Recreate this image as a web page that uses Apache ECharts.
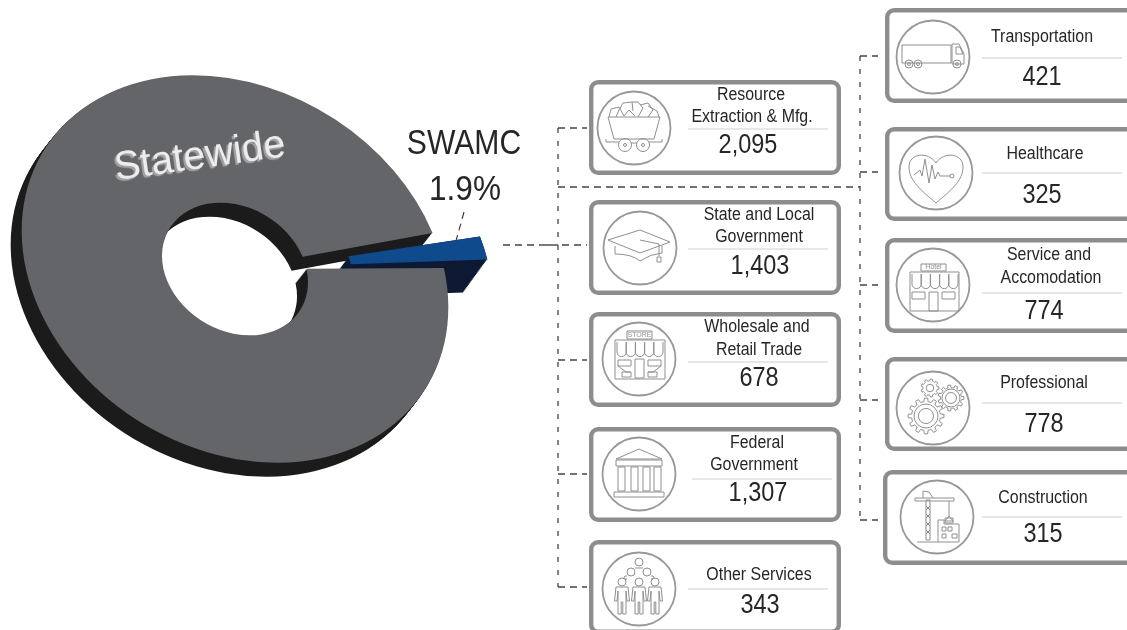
<!DOCTYPE html>
<html><head><meta charset="utf-8">
<script src="https://cdn.jsdelivr.net/npm/echarts@6/dist/echarts.min.js"></script>
<style>html,body{margin:0;padding:0;background:#fff}#c{width:1127px;height:630px}</style></head>
<body><div id="c"></div>
<script>
// ---------- data ----------
const shareNames = ['Statewide', 'SWAMC'];
const shareValues = [98.1, 1.9];
const shareCallout = '1.9%';
const leftNames = ['Resource\nExtraction & Mfg.', 'State and Local\nGovernment', 'Wholesale and\nRetail Trade', 'Federal\nGovernment', 'Other Services'];
const leftValues = [2095, 1403, 678, 1307, 343];
const rightNames = ['Transportation', 'Healthcare', 'Service and\nAccomodation', 'Professional', 'Construction'];
const rightValues = [421, 325, 774, 778, 315];

// ---------- layout (positions only) ----------
// [left, top, bottom, right, circleX, circleY, [nameCenterX...], [nameY...], dividerY, divX0, divX1, numX, numY, icon]
const leftLayout = [
  [589, 80, 175, 841, 634, 128, [751, 752], [95, 117], 129, 688, 828, 748, 146, 'cart'],
  [589, 200, 295, 841, 640, 248, [759, 759], [215, 237], 249, 688, 828, 760, 267, 'cap'],
  [589, 312, 407, 841, 639, 359, [757, 759], [327, 350], 362, 688, 828, 759, 379, 'store'],
  [589, 427, 522, 841, 639, 474, [757, 754], [443, 465], 479, 692, 832, 758, 494, 'temple'],
  [589, 540, 634, 841, 639, 589, [759], [575], 589, 688, 828, 760, 606, 'people']
];
const rightLayout = [
  [885, 8, 103, 1150, 933, 57, [1042], [37], 58, 982, 1122, 1042, 78, 'truck'],
  [885, 127, 221, 1150, 936, 173, [1045], [154], 173, 982, 1122, 1042, 196, 'heart'],
  [885, 238, 333, 1150, 933, 285, [1049, 1051], [255, 278], 293, 982, 1122, 1044, 312, 'hotel'],
  [885, 357, 451, 1150, 933, 408, [1044], [383], 403, 982, 1122, 1044, 425, 'gears'],
  [883, 470, 565, 1150, 937, 517, [1043], [498], 517, 982, 1122, 1043, 535, 'crane']
];
const FONT = '"Liberation Sans", Arial, sans-serif';
const INK = '#262626';

// ---------- icon outlines, in circle-local units ----------
const circ = (x, y, r) => `M${x - r} ${y}a${r} ${r} 0 1 0 ${2 * r} 0a${r} ${r} 0 1 0 ${-2 * r} 0Z`;
const rct = (x0, y0, x1, y1) => `M${x0} ${y0}H${x1}V${y1}H${x0}Z`;
function gear(cx, cy, r, n) {
  let d = '';
  const ro = r, ri = r * 0.8, st = Math.PI * 2 / n;
  for (let i = 0; i < n; i++) {
    const a = i * st;
    const pts = [[ri, a - st * .5], [ri, a - st * .28], [ro, a - st * .18], [ro, a + st * .18], [ri, a + st * .28]];
    pts.forEach((p, j) => {
      d += ((i === 0 && j === 0) ? 'M' : 'L') + (cx + p[0] * Math.cos(p[1])).toFixed(1) + ' ' + (cy + p[0] * Math.sin(p[1])).toFixed(1);
    });
  }
  return d + 'Z' + circ(cx, cy, r * 0.42);
}
function awnings(x0, w, n, y0, h) {
  let d = '';
  for (let i = 0; i < n; i++) {
    const x = x0 + i * w;
    d += `M${x} ${y0}v${h}a${w / 2} ${w / 2} 0 0 0 ${w} 0v${-h}`;
  }
  return d;
}
function person(x, y) {
  return circ(x, y, 4) + `M${x - 6} ${y + 5}H${x + 6}L${x + 7.5} ${y + 19}H${x + 5}L${x + 4} ${y + 9}V${y + 32}H${x + .8}V${y + 20}H${x - .8}V${y + 32}H${x - 4}V${y + 9}L${x - 5} ${y + 19}H${x - 7.5}Z`;
}
const ICONS = {
  cart: 'M-26 -11H26L20 11H-20Z' + circ(-9, 17, 6.5) + circ(-9, 17, 1.5) + circ(9, 17, 6.5) + circ(9, 17, 1.5) +
    'M-15 14H-28V11M15 14H28V11M-3 15H3' +
    'M-25 -11L-23 -19L-15 -21L-10 -12M-18 -11L-15 -18L-11 -25L-2 -26L-1 -17M-10 -12L-5 -18L1 -12M-2 -26L4 -26L9 -20L4 -11M6 -23L14 -25L19 -18L14 -11M14 -22L23 -17L25 -11',
  cap: 'M-32 -8L0 -18L30 -6L0 5Z' + 'M-25 -2V6Q-8 6 0 13Q10 6 22 5V-2' + 'M0 -8L19 -4V8M17 9H21V14H17Z',
  store: rct(-12, -28, 13, -20) + rct(-24, -19, 26, 20) + awnings(-22, 9.2, 5, -17, 10) + rct(-4, 0, 5, 19) +
    rct(-21, 1, -8, 7) + rct(9, 1, 22, 7) + 'M-21 7L-13 13H-9M9 13H14L22 7M-17 13H-8V18H-17ZM9 13H18V18H9Z',
  temple: 'M-23 -15L0 -25L23 -15Z' + rct(-23, -14, 23, -8) + rct(-21, -7, -14, 17) + rct(-8, -7, -1, 17) + rct(4, -7, 11, 17) + rct(15, -7, 22, 17) + rct(-25, 18, 25, 23),
  people: circ(0, -27, 4) + circ(-8, -17, 4) + circ(8, -17, 4) + 'M-4 -21H4M-14 -10H-12M12 -10H14M-14 -10Q-16 -12 -14 -13H-12M14 -10Q16 -12 14 -13H12' +
    person(-17, -7) + person(0, -7) + person(16, -7),
  truck: rct(-31, -12, 18, 6) + 'M19 -13H26L31 -3V7H19Z' + 'M23 -10H27L30 -3H23Z' + circ(-24, 7, 4) + circ(-24, 7, 1.5) + circ(-15, 7, 4) + circ(-15, 7, 1.5) + circ(24, 7, 4) + circ(24, 7, 1.5),
  heart: 'M0 30C-14 18 -27 8 -27 -6C-27 -20 -8 -22 0 -10C8 -22 27 -20 27 -6C27 8 14 18 0 30Z' +
    'M-22 2L-16 -3L-14 3L-11 -14L-7 10L-4 -8L-1 6L2 -1L4 3L14 3' + circ(16, 3, 2),
  hotel: rct(-12, -21, 13, -14) + rct(-23, -13, 26, 26) + awnings(-21, 9.2, 5, -11, 10) + rct(-4, 7, 5, 26) + rct(-21, 7, -8, 14) + rct(9, 7, 22, 14),
  gears: gear(-7, 8, 18, 12) + circ(-7, 8, 12) + gear(18, -10, 13, 11) + circ(18, -10, 9) + gear(-3, -20, 9, 9),
  crane: rct(-11, -17, -7, 23) + 'M-11 -11L-7 -7M-7 -11L-11 -7M-11 -3L-7 1M-7 -3L-11 1M-11 5L-7 9M-7 5L-11 9M-11 13L-7 17M-7 13L-11 17' +
    rct(-22, -19, 17, -16) + 'M-14 -19V-26L-8 -25L-4 -19' + 'M12 -16V-1' + 'M12 -1L8 4H16Z' + rct(8, 1, 16, 6) +
    'M-20 25H22V7H7V3H1V25' + rct(5, 10, 9, 14) + rct(11, 10, 15, 14) + rct(5, 17, 9, 21) + rct(15, 17, 20, 21)
};

// ---------- donut geometry ----------
const D = { cx: 235, cy: 269, r: 225, r0: 77, sq: 0.8, tilt: 32, gapMid: -43.5, pad: 1.8, depth: [-11, 14], explode: 45, blueDepth: [-24, 33] };
const rad = d => d * Math.PI / 180;
function sliceAngles(i, total) {
  const sweep = shareValues[1] / total * 360;
  if (i === 1) return [D.gapMid - sweep / 2, D.gapMid + sweep / 2];
  return [D.gapMid + sweep / 2 + D.pad, D.gapMid - sweep / 2 - D.pad + 360];
}
function sliceEl(i, dx, dy, fill) {
  const a = sliceAngles(i, shareValues[0] + shareValues[1]);
  return {
    type: 'sector', x: D.cx + dx, y: D.cy + dy, rotation: -rad(D.tilt), scaleX: 1, scaleY: D.sq,
    shape: { cx: 0, cy: 0, r: D.r, r0: D.r0, startAngle: rad(a[0]), endAngle: rad(a[1]), clockwise: true },
    style: { fill: fill }
  };
}
const ex = [D.explode * Math.cos(rad(-3)), D.explode * Math.sin(rad(-3))];

function renderDepth(params) {
  const i = params.dataIndex; // dataIndex 0 = SWAMC side wall, 1 = Statewide side wall
  if (i === 0) {
    const kids = [];
    for (let k = 0; k <= 30; k++) kids.push(sliceEl(1, ex[0] + D.blueDepth[0] * k / 30, ex[1] + D.blueDepth[1] * k / 30, '#0e1a33'));
    return { type: 'group', children: kids };
  }
  const kids = [];
  for (let k = 1; k <= 14; k++) kids.push(sliceEl(0, D.depth[0] * k / 14, D.depth[1] * k / 14, '#1b1b1c'));
  return { type: 'group', children: kids };
}
function renderTop(params) {
  const i = params.dataIndex;
  if (i === 0) return sliceEl(0, 0, 0, '#646568');
  return sliceEl(1, ex[0], ex[1], '#0f4a8c');
}
function renderCallouts() {
  return {
    type: 'group', children: [
      { type: 'text', x: 200, y: 157, rotation: rad(8), scaleX: 0.98,
        style: { text: shareNames[0], font: '40px ' + FONT, fill: '#ececec', align: 'center', verticalAlign: 'middle', textShadowColor: '#a4a4a6', textShadowOffsetX: -2, textShadowOffsetY: 2, textShadowBlur: 1, shadowColor: '#a4a4a6', shadowOffsetX: -2, shadowOffsetY: 2, shadowBlur: 1 } },
      { type: 'text', x: 464, y: 144, scaleX: 0.86, style: { text: shareNames[1], font: '35px ' + FONT, fill: INK, align: 'center', verticalAlign: 'middle' } },
      { type: 'text', x: 465, y: 190, scaleX: 0.9, style: { text: shareCallout, font: '35px ' + FONT, fill: INK, align: 'center', verticalAlign: 'middle' } },
      { type: 'line', shape: { x1: 464, y1: 212, x2: 456, y2: 241 }, style: { stroke: '#333', lineWidth: 1.1, lineDash: [7, 5] } }
    ]
  };
}
function renderConnectors() {
  const dash = { stroke: '#444', lineWidth: 1.3, lineDash: [7, 5], fill: 'none' };
  const dashV = { stroke: '#444', lineWidth: 1.3, lineDash: [5, 8], fill: 'none' };
  const L = (x1, y1, x2, y2, st) => ({ type: 'line', shape: { x1, y1, x2, y2 }, style: st || dash });
  const kids = [
    L(503, 245, 540, 245), L(540, 245, 558, 245, { stroke: '#333', lineWidth: 1.3 }), L(562, 245, 587, 245),
    L(558, 128, 558, 587, dashV), L(860, 56, 860, 520, dashV), L(558, 187, 860, 187)
  ];
  [128, 360, 474, 587].forEach(y => kids.push(L(558, y, 587, y)));
  [56, 172, 285, 400, 520].forEach(y => kids.push(L(860, y, 878, y)));
  return { type: 'group', children: kids };
}
function cardRenderer(names, layout) {
  return function (params, api) {
    const i = params.dataIndex;
    const [x0, y0, y1, x1, cx, cy, nx, ny, divY, dx0, dx1, numX, numY, icon] = layout[i];
    const lines = names[i].split('\n');
    const kids = [
      { type: 'rect', shape: { x: x0 + 2.2, y: y0 + 2.2, width: x1 - x0 - 4.4, height: y1 - y0 - 4.4, r: 7 }, style: { fill: '#fff', stroke: '#8d8d8d', lineWidth: 4.4 } },
      { type: 'circle', shape: { cx, cy, r: 36.5 }, style: { fill: '#fff', stroke: '#989898', lineWidth: 1.8 } },
      { type: 'path', x: cx, y: cy, shape: { pathData: ICONS[icon] }, style: { fill: 'none', stroke: '#8f8f8f', lineWidth: 1 } },
      { type: 'line', shape: { x1: dx0, y1: divY, x2: dx1, y2: divY }, style: { stroke: '#cfcfcf', lineWidth: 1 } }
    ];
    if (icon === 'store' || icon === 'hotel') {
      kids.push({ type: 'text', x: cx + 0.5, y: cy + (icon === 'store' ? -24 : -17.5), style: { text: icon === 'store' ? 'STORE' : 'Hotel', font: '7px ' + FONT, fill: '#8f8f8f', align: 'center', verticalAlign: 'middle' } });
    }
    lines.forEach((t, k) => kids.push({
      type: 'text', x: nx[k], y: ny[k], scaleX: 0.91,
      style: { text: t, font: '17.5px ' + FONT, fill: INK, align: 'center', verticalAlign: 'middle' }
    }));
    kids.push({
      type: 'text', x: numX, y: numY, scaleX: 0.87,
      style: { text: api.value(0).toLocaleString('en-US'), font: '27px ' + FONT, fill: INK, align: 'center', verticalAlign: 'middle' }
    });
    return { type: 'group', children: kids };
  };
}
const common = { type: 'custom', coordinateSystem: 'none', silent: true, animation: false, clip: false };
const chart = echarts.init(document.getElementById('c'), null, { renderer: 'canvas' });
chart.setOption({
  backgroundColor: '#fff',
  animation: false,
  series: [
    Object.assign({}, common, { name: 'connectors', z: 1, data: [0], renderItem: renderConnectors }),
    Object.assign({}, common, { name: 'wall', z: 2, data: [shareValues[1], shareValues[0]], renderItem: renderDepth }),
    Object.assign({}, common, { name: 'share', z: 3, data: shareValues, renderItem: renderTop }),
    Object.assign({}, common, { name: 'callouts', z: 4, data: [0], renderItem: renderCallouts }),
    Object.assign({}, common, { name: 'left sectors', z: 5, data: leftValues, renderItem: cardRenderer(leftNames, leftLayout) }),
    Object.assign({}, common, { name: 'right sectors', z: 5, data: rightValues, renderItem: cardRenderer(rightNames, rightLayout) })
  ]
});
</script></body></html>
